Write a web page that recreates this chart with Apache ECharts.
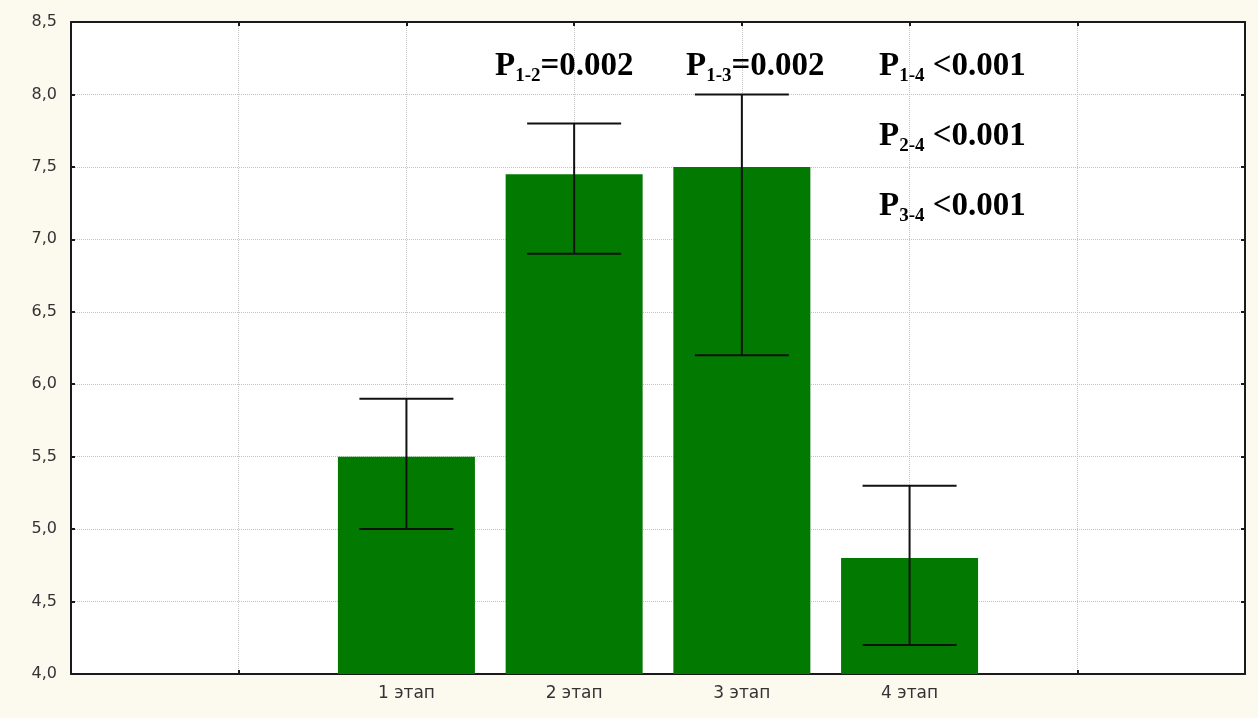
<!DOCTYPE html>
<html>
<head>
<meta charset="utf-8">
<script src="https://cdn.jsdelivr.net/npm/echarts@6/dist/echarts.min.js"></script>
<style>
  html, body { margin: 0; padding: 0; background: #fcf9ef; }
  #chart { width: 1258px; height: 718px; }
</style>
</head>
<body>
<div id="chart"></div>
<script>
// категории (пустые — поля по краям, как в оригинале)
var categories = ['', '', '1 этап', '2 этап', '3 этап', '4 этап', '', ''];
var means = [null, null, 5.5, 7.45, 7.5, 4.8, null, null];
var lows  = [null, null, 5.0, 6.9, 6.2, 4.2, null, null];
var highs = [null, null, 5.9, 7.8, 8.0, 5.3, null, null];
var yMin = 4, yMax = 8.5, yStep = 0.5;
// подписи p-значений: [P-индекс, остаток строки]
var pLabels = [
  ['1-2', '=0.002'],
  ['1-3', '=0.002'],
  ['1-4', ' <0.001'],
  ['2-4', ' <0.001'],
  ['3-4', ' <0.001']
];
var pPos = [[495, 50], [686, 50], [879, 50], [879, 120], [879, 190]];

var errData = [];
for (var i = 0; i < categories.length; i++) {
  if (means[i] != null) errData.push([i, lows[i], highs[i]]);
}

var boxColor = '#1a1a1a';
var gridLine = { show: true, lineStyle: { color: '#c4c4c4', type: 'dotted', width: 1 } };

var myChart = echarts.init(document.getElementById('chart'));
myChart.setOption({
  backgroundColor: '#fcf9ef',
  animation: false,
  grid: { left: 71, top: 22, right: 13, bottom: 44, show: true, backgroundColor: '#ffffff', borderWidth: 0 },
  xAxis: [
    {
      type: 'category',
      data: categories,
      boundaryGap: false,
      axisLine: { lineStyle: { color: boxColor, width: 2 } },
      axisTick: { inside: true, length: 4, lineStyle: { color: boxColor, width: 2 } },
      axisLabel: { color: '#333', fontSize: 17, fontFamily: 'DejaVu Sans', margin: 11 },
      splitLine: gridLine
    },
    {
      type: 'category',
      data: categories,
      boundaryGap: false,
      position: 'top',
      axisLine: { lineStyle: { color: boxColor, width: 2 } },
      axisTick: { inside: true, length: 4, lineStyle: { color: boxColor, width: 2 } },
      axisLabel: { show: false },
      splitLine: { show: false }
    }
  ],
  yAxis: [
    {
      type: 'value',
      min: yMin, max: yMax, interval: yStep,
      axisLine: { show: true, lineStyle: { color: boxColor, width: 2 } },
      axisTick: { show: true, inside: true, length: 4, lineStyle: { color: boxColor, width: 2 } },
      axisLabel: {
        color: '#333', fontSize: 16, fontFamily: 'DejaVu Sans', margin: 14,
        formatter: function (v) { return v.toFixed(1).replace('.', ','); }
      },
      splitLine: gridLine
    },
    {
      type: 'value',
      min: yMin, max: yMax, interval: yStep,
      position: 'right',
      axisLine: { show: true, lineStyle: { color: boxColor, width: 2 } },
      axisTick: { show: true, inside: true, length: 4, lineStyle: { color: boxColor, width: 2 } },
      axisLabel: { show: false },
      splitLine: { show: false }
    }
  ],
  series: [
    {
      type: 'bar',
      data: means,
      barWidth: 137,
      itemStyle: { color: '#027a02' },
      z: 2
    },
    {
      type: 'custom',
      data: errData,
      z: 5,
      renderItem: function (params, api) {
        var x = api.coord([api.value(0), api.value(1)])[0];
        var yLow = api.coord([api.value(0), api.value(1)])[1];
        var yHigh = api.coord([api.value(0), api.value(2)])[1];
        var half = 47;
        var st = { stroke: '#111', lineWidth: 2 };
        return {
          type: 'group',
          children: [
            { type: 'line', shape: { x1: x, y1: yLow, x2: x, y2: yHigh }, style: st },
            { type: 'line', shape: { x1: x - half, y1: yHigh, x2: x + half, y2: yHigh }, style: st },
            { type: 'line', shape: { x1: x - half, y1: yLow, x2: x + half, y2: yLow }, style: st }
          ]
        };
      }
    }
  ],
  graphic: pLabels.map(function (p, k) {
    return {
      type: 'text',
      left: pPos[k][0],
      top: pPos[k][1],
      z: 10,
      style: {
        text: '{p|P}{s|' + p[0] + '}{p|' + p[1] + '}',
        rich: {
          p: { fontFamily: 'Liberation Serif', fontWeight: 'bold', fontSize: 33, lineHeight: 38, fill: '#000' },
          s: { fontFamily: 'Liberation Serif', fontWeight: 'bold', fontSize: 19, verticalAlign: 'bottom', fill: '#000' }
        }
      }
    };
  })
});
window.addEventListener('resize', myChart.resize);
</script>
</body>
</html>
